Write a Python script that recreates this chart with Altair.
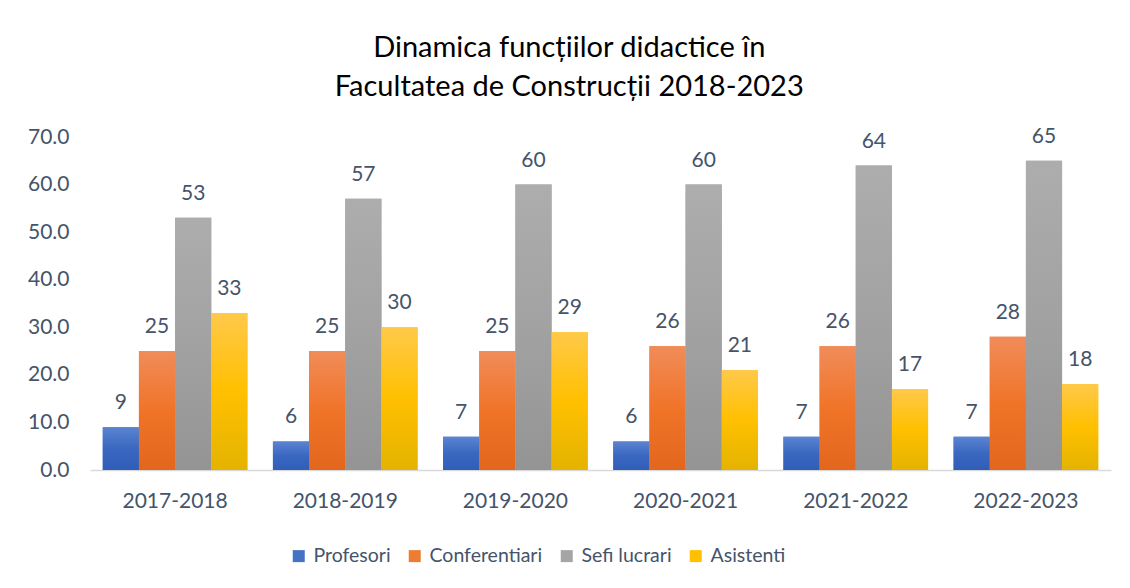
import altair as alt
import pandas as pd

years = ["2017-2018", "2018-2019", "2019-2020", "2020-2021", "2021-2022", "2022-2023"]
series = ["Profesori", "Conferentiari", "Sefi lucrari", "Asistenti"]
profesori = [9, 6, 7, 6, 7, 7]
conferentiari = [25, 25, 25, 26, 26, 28]
sefi = [53, 57, 60, 60, 64, 65]
asistenti = [33, 30, 29, 21, 17, 18]

base_colors = ["#4472C4", "#ED7D31", "#A5A5A5", "#FFC000"]
grad_stops = [
    ["#5B84D2", "#3A67C0", "#2F5DB8"],
    ["#F08C5A", "#F07428", "#E2661C"],
    ["#ADADAD", "#A2A2A2", "#949494"],
    ["#FFC94A", "#FFC000", "#E4B300"],
]

rows = []
for s, vals in zip(series, [profesori, conferentiari, sefi, asistenti]):
    for y, v in zip(years, vals):
        rows.append({"year": y, "series": s, "value": v})
df = pd.DataFrame(rows)

FONT = "Lato"
TXT = "#44546A"
FS = 21

x_enc = alt.X("year:N", sort=years, title=None,
              scale=alt.Scale(paddingInner=0.15, paddingOuter=0.075),
              axis=alt.Axis(labelAngle=0, labelFontSize=FS, labelColor=TXT, labelFont=FONT,
                            labelPadding=20, ticks=False, domainColor="#D9D9D9", domainWidth=1.5))
y_enc = alt.Y("value:Q", title=None,
              scale=alt.Scale(domain=[0, 70], nice=False),
              axis=alt.Axis(values=[0, 10, 20, 30, 40, 50, 60, 70], format=".1f", grid=False,
                            domain=False, ticks=False, labelFontSize=FS, labelColor=TXT,
                            labelFont=FONT, labelPadding=21))
xo = alt.XOffset("series:N", sort=series, scale=alt.Scale(domain=series))

base = alt.Chart(df)

legend_bars = base.mark_bar().encode(
    x=x_enc, y=y_enc, xOffset=xo,
    color=alt.Color("series:N", sort=series,
                    scale=alt.Scale(domain=series, range=base_colors),
                    legend=alt.Legend(title=None, orient="none", direction="horizontal",
                                      legendX=199, legendY=409, symbolType="square",
                                      symbolSize=144, labelFontSize=19.5, labelColor=TXT,
                                      labelFont=FONT, labelOffset=5, columnPadding=14,
                                      symbolStrokeWidth=0)),
)

layers = [legend_bars]
for s, stops in zip(series, grad_stops):
    g = alt.Gradient(gradient="linear", x1=0, x2=0, y1=0, y2=1,
                     stops=[alt.GradientStop(color=stops[0], offset=0),
                            alt.GradientStop(color=stops[1], offset=0.5),
                            alt.GradientStop(color=stops[2], offset=1)])
    layers.append(
        base.transform_filter(alt.datum.series == s).mark_bar(color=g).encode(
            x=alt.X("year:N", sort=years), y="value:Q", xOffset=xo)
    )

labels = base.mark_text(fontSize=FS, color=TXT, font=FONT, baseline="middle", dy=-24).encode(
    x=alt.X("year:N", sort=years), y="value:Q", xOffset=xo, text=alt.Text("value:Q", format="d"))
layers.append(labels)

chart = alt.layer(*layers).properties(
    width=1021, height=333,
    title=alt.TitleParams(["Dinamica funcțiilor didactice în", "Facultatea de Construcții 2018-2023"],
                          fontSize=29, font=FONT, fontWeight="normal", color="#000000",
                          anchor="middle", frame="bounds", lineHeight=39, offset=24),
).configure(
    background="white", padding={"left": 19, "top": 25, "right": 10, "bottom": 8}
).configure_view(strokeWidth=0, stroke="transparent")

chart.save("out.html", embed_options={"renderer": "svg", "actions": False})
